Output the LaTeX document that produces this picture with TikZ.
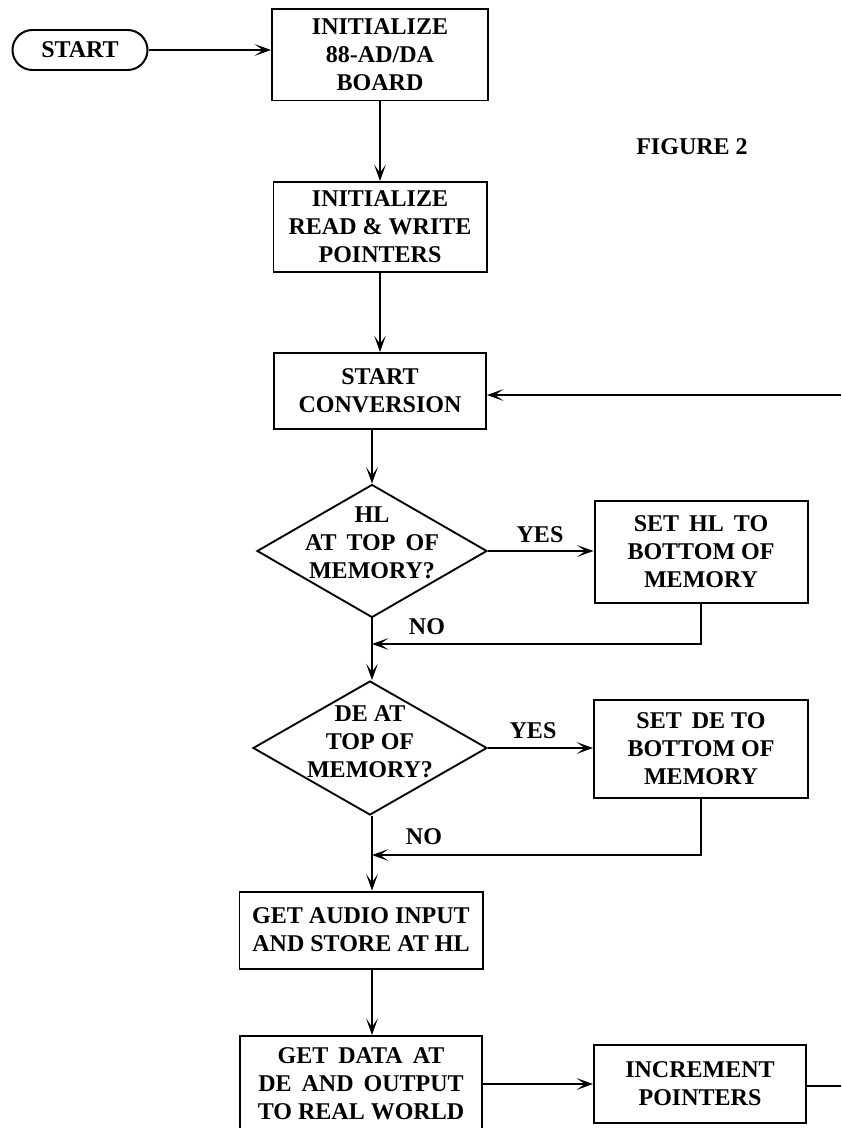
\documentclass[tikz,border=0pt]{standalone}
\usepackage{fontspec}
\setmainfont{Liberation Serif}
\usetikzlibrary{arrows.meta,shapes.geometric}

\begin{document}
\begin{tikzpicture}[x=0.03cm,y=-0.03cm,
    every node/.style={font=\bfseries\fontsize{20.5}{24}\selectfont,align=center},
    box/.style={draw,line width=1.7pt,inner sep=0pt},
    decision/.style={draw,diamond,line width=1.6pt,inner sep=0pt},
    flow/.style={line width=1.3pt,-{Stealth[length=14pt,width=10pt,inset=7pt]}},
    plain/.style={line width=1.3pt}]

    \useasboundingbox (0,0) rectangle (841,1128);

    % start terminal
    \node[box,rounded corners=0.6cm,minimum width=4.05cm,minimum height=1.2cm] (start) at (80,50) {START};

    % initialize the board
    \node[box,minimum width=6.48cm,minimum height=2.73cm] (board) at (380,55) {INITIALIZE\\88-AD/DA\\BOARD};
    \draw[flow] (start.east) -- (start.east -| board.west);

    % figure caption
    \node (caption) at (692,147) {FIGURE 2};

    % initialize the pointers
    \node[box,minimum width=6.39cm,minimum height=2.7cm] (pointers) at (380,227) {INITIALIZE\\READ \& WRITE\\POINTERS};
    \draw[flow] (board) -- (pointers);

    % start conversion
    \node[box,minimum width=6.36cm,minimum height=2.28cm] (conv) at (380,391) {START\\CONVERSION};
    \draw[flow] (pointers) -- (conv);

    %%%%%%%%%%%%%%%%%%%%%%%%%%%%%%%%%%%%%%%%%%%%%%%%%%%%%%

    % HL at top of memory?
    \node[decision,minimum width=6.9cm,minimum height=3.99cm] (hl) at (372,551) {};
    \node (hltext) at (372,543) {HL\\AT\, TOP\, OF\\MEMORY?};
    \draw[flow] (conv.south -| hl.north) -- (hl.north);

    % set HL to bottom
    \node[box,minimum width=6.39cm,minimum height=3.06cm] (hlset) at (701,552) {SET\, HL\, TO\\BOTTOM OF\\MEMORY};
    \draw[flow] (hl.east) -- (hl.east -| hlset.west);
    \node (hlyes) at (540,535) {YES};

    % HL back to main line
    \coordinate (hljoin) at (372,644);
    \draw[flow] (hlset.south) |- (hljoin);
    \node (hlno) at (427,627) {NO};

    %%%%%%%%%%%%%%%%%%%%%%%%%%%%%%%%%%%%%%%%%%%%%%%%%%%%%%

    % DE at top of memory?
    \node[decision,minimum width=7.02cm,minimum height=4.02cm] (de) at (370,748) {};
    \node (detext) at (370,742) {DE AT\\TOP OF\\MEMORY?};
    \draw[flow] (hl.south) -- (hl.south |- de.north);

    % set DE to bottom
    \node[box,minimum width=6.42cm,minimum height=2.94cm] (deset) at (701,749) {SET\, DE TO\\BOTTOM OF\\MEMORY};
    \draw[flow] (de.east) -- (de.east -| deset.west);
    \node (deyes) at (533,731) {YES};

    % DE back to main line
    \coordinate (dejoin) at (372,855);
    \draw[flow] (deset.south) |- (dejoin);
    \node (deno) at (424,837) {NO};

    %%%%%%%%%%%%%%%%%%%%%%%%%%%%%%%%%%%%%%%%%%%%%%%%%%%%%%

    % audio input
    \node[box,minimum width=7.29cm,minimum height=2.31cm] (audio) at (361,930) {GET AUDIO INPUT\\AND STORE AT HL};
    \draw[flow] (hljoin |- de.south) -- (hljoin |- audio.north);

    % data output
    \node[box,minimum width=7.26cm,minimum height=2.88cm] (output) at (361,1084) {GET\, DATA\, AT\\DE\, AND\, OUTPUT\\TO REAL WORLD};
    \draw[flow] (hljoin |- audio.south) -- (hljoin |- output.north);

    % increment pointers
    \node[box,minimum width=6.36cm,minimum height=2.34cm] (incr) at (700,1084) {INCREMENT\\POINTERS};
    \draw[flow] (output) -- (incr);

    % loop back (cut at the page edge)
    \coordinate (loopout) at (841,1086);
    \draw[plain] (incr.east |- loopout) -- (loopout);
    \coordinate (loopin) at (841,395);
    \draw[flow] (loopin) -- (loopin -| conv.east);

\end{tikzpicture}
\end{document}
